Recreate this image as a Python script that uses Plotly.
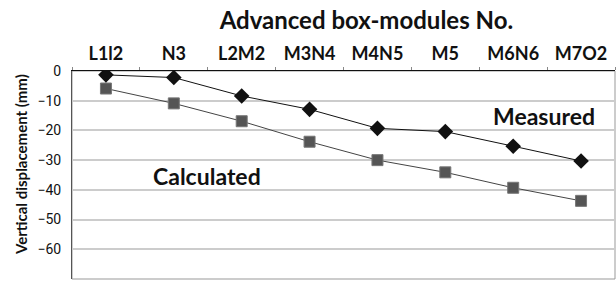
import plotly.graph_objects as go

categories = ["L1l2", "N3", "L2M2", "M3N4", "M4N5", "M5", "M6N6", "M7O2"]
measured = [-1.3, -2.2, -8.4, -12.9, -19.3, -20.4, -25.3, -30.3]
calculated = [-5.9, -10.9, -16.9, -23.8, -30.0, -34.1, -39.3, -43.7]
y_ticks = [0, -10, -20, -30, -40, -50, -60, -70]
y_tick_labels = ["0", "\u221210", "\u221220", "\u221230", "\u221240", "\u221250", "\u221260", "\u221270"]

FONT = "Lato"
fig = go.Figure()
fig.add_trace(go.Scatter(x=categories, y=calculated, mode="lines+markers",
                         line=dict(color="#444444", width=1),
                         marker=dict(symbol="square", size=11, color="#555555",
                                     line=dict(color="#777777", width=1)),
                         showlegend=False))
fig.add_trace(go.Scatter(x=categories, y=measured, mode="lines+markers",
                         line=dict(color="#111111", width=1),
                         marker=dict(symbol="diamond", size=12, color="#111111"),
                         showlegend=False))

fig.update_layout(
    width=616, height=284,
    margin=dict(l=72, r=1, t=71, b=5, autoexpand=False),
    paper_bgcolor="white", plot_bgcolor="white",
    title=dict(text="<b>Advanced box-modules No.</b>", x=334 / 616, xanchor="center",
               xref="paper", y=1 - 21 / 284, yanchor="middle",
               font=dict(family=FONT, size=24, color="#111111")),
    xaxis=dict(type="category", side="top", tickson="boundaries", ticks="outside",
               ticklen=3, tickcolor="#888888", showline=True, linecolor="#111111",
               linewidth=1, showgrid=False, automargin=False, ticklabelstandoff=3,
               tickfont=dict(family=FONT, size=18, color="#111111", weight="bold"),
               range=[-0.5, 7.5]),
    yaxis=dict(range=[-70, 0], tickvals=y_ticks, ticktext=y_tick_labels,
               showgrid=True, gridcolor="#cccccc",
               gridwidth=1.5, zeroline=False, showline=True, linecolor="#555555",
               ticks="", automargin=False, ticklabelstandoff=7,
               tickfont=dict(family="Roboto", size=14, color="#111111")),
    shapes=[dict(type="rect", xref="paper", yref="paper", x0=0, x1=1, y0=0, y1=1,
                 line=dict(color="#999999", width=1), layer="below")],
    annotations=[
        dict(text="<b>Vertical displacement (mm)</b>", x=-51 / 543, y=(279 - 165) / 208,
             xref="paper", yref="paper", xanchor="center", yanchor="middle",
             textangle=-90, showarrow=False,
             font=dict(family=FONT, size=15, color="#111111")),
        dict(text="<b>Measured</b>", x=6.45, y=-15.3, xref="x", yref="y",
             showarrow=False, font=dict(family=FONT, size=23, color="#111111")),
        dict(text="<b>Calculated</b>", x=1.49, y=-35.3, xref="x", yref="y",
             showarrow=False, font=dict(family=FONT, size=23, color="#111111")),
    ],
)
fig.write_html("out.html", config={"displayModeBar": False},
               post_script="document.body.style.margin='0';document.body.style.padding='0';")
